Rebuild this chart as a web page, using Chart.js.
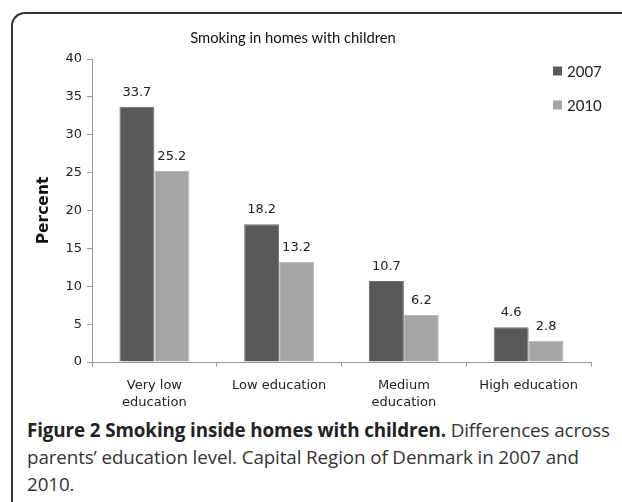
<!DOCTYPE html>
<html>
<head>
<meta charset="utf-8">
<script src="https://cdn.jsdelivr.net/npm/chart.js@4"></script>
<style>
    html, body { margin: 0; padding: 0; background: #fff; }
    #page { position: relative; width: 622px; height: 502px; overflow: hidden; }
    #frame {
        position: absolute; left: 11px; top: 12px; width: 700px; height: 600px;
        border-top: 2px solid #333; border-left: 2px solid #333;
        border-top-left-radius: 14px; box-sizing: border-box;
    }
    #chart-box { position: absolute; left: 0; top: 0; width: 622px; height: 415px; }
    #title {
        position: absolute; top: 28px; left: 186px; width: 214px; text-align: center;
        font-family: Lato, sans-serif; font-size: 14.8px; color: #111; white-space: nowrap;
    }
    #caption {
        position: absolute; left: 27px; top: 417px; width: 595px;
        font-family: "Open Sans", sans-serif; font-size: 18.8px; line-height: 27px; color: #333;
        letter-spacing: -0.1px;
    }
    #caption b { color: #222; }
</style>
</head>
<body>
<div id="page">
    <div id="frame"></div>
    <div id="chart-box"><canvas id="chart"></canvas></div>
    <div id="title">Smoking in homes with children</div>
    <div id="caption"><b>Figure 2 Smoking inside homes with children.</b> Differences across parents’ education level. Capital Region of Denmark in 2007 and 2010.</div>
</div>
<script>
// Data
const categories = [['Very low', 'education'], 'Low education', ['Medium', 'education'], 'High education'];
const years = ['2007', '2010'];
const values2007 = [33.7, 18.2, 10.7, 4.6];
const values2010 = [25.2, 13.2, 6.2, 2.8];
const yTicks = [0, 5, 10, 15, 20, 25, 30, 35, 40];

const barColors = ['#595959', '#a5a5a5'];
const barBorders = ['#6e6e6e', '#b8b8b8'];

// value labels above each bar
const valueLabels = {
    id: 'valueLabels',
    afterDatasetsDraw(chart) {
        const ctx = chart.ctx;
        ctx.save();
        ctx.font = '13px "DejaVu Sans", sans-serif';
        ctx.fillStyle = '#222';
        ctx.textAlign = 'center';
        ctx.textBaseline = 'bottom';
        chart.data.datasets.forEach((ds, i) => {
            chart.getDatasetMeta(i).data.forEach((bar, j) => {
                ctx.fillText(ds.data[j].toFixed(1), bar.x, bar.y - 8);
            });
        });
        ctx.restore();
    }
};

// legend drawn inside the plot area, top right
const innerLegend = {
    id: 'innerLegend',
    afterDraw(chart) {
        const ctx = chart.ctx;
        ctx.save();
        ctx.font = '15px Lato, sans-serif';
        ctx.textBaseline = 'middle';
        ctx.textAlign = 'left';
        chart.data.datasets.forEach((ds, i) => {
            const y = 71 + i * 34;
            ctx.fillStyle = ds.backgroundColor;
            ctx.fillRect(553, y - 4.5, 9, 9);
            ctx.fillStyle = '#222';
            ctx.fillText(ds.label, 567, y + 1);
        });
        ctx.restore();
    }
};

new Chart(document.getElementById('chart'), {
    type: 'bar',
    data: {
        labels: categories,
        datasets: [
            { label: years[0], data: values2007, backgroundColor: barColors[0], borderColor: barBorders[0], borderWidth: 1 },
            { label: years[1], data: values2010, backgroundColor: barColors[1], borderColor: barBorders[1], borderWidth: 1 }
        ]
    },
    options: {
        responsive: true,
        maintainAspectRatio: false,
        animation: false,
        layout: { padding: { left: 35, right: 31, top: 59, bottom: 3 } },
        datasets: { bar: { categoryPercentage: 0.56, barPercentage: 1 } },
        plugins: {
            legend: { display: false },
            tooltip: { enabled: false }
        },
        scales: {
            x: {
                grid: { drawOnChartArea: false, tickLength: 5, color: '#999' },
                border: { color: '#999' },
                ticks: { color: '#222', font: { family: '"DejaVu Sans", sans-serif', size: 13, lineHeight: 1.3 }, maxRotation: 0, padding: 10 },
                afterFit(scale) { scale.height = 50; }
            },
            y: {
                min: 0, max: 40,
                afterBuildTicks(scale) { scale.ticks = yTicks.map(v => ({ value: v })); },
                grid: { drawOnChartArea: false, tickLength: 5, color: '#999' },
                border: { color: '#999' },
                ticks: { color: '#222', font: { family: '"DejaVu Sans", sans-serif', size: 13 }, padding: 5 },
                title: { display: true, text: 'Percent', color: '#111', padding: 0, font: { family: '"DejaVu Sans", sans-serif', size: 15.5, weight: 'bold' } },
                afterFit(scale) { scale.width = 57; }
            }
        }
    },
    plugins: [valueLabels, innerLegend]
});
</script>
</body>
</html>
